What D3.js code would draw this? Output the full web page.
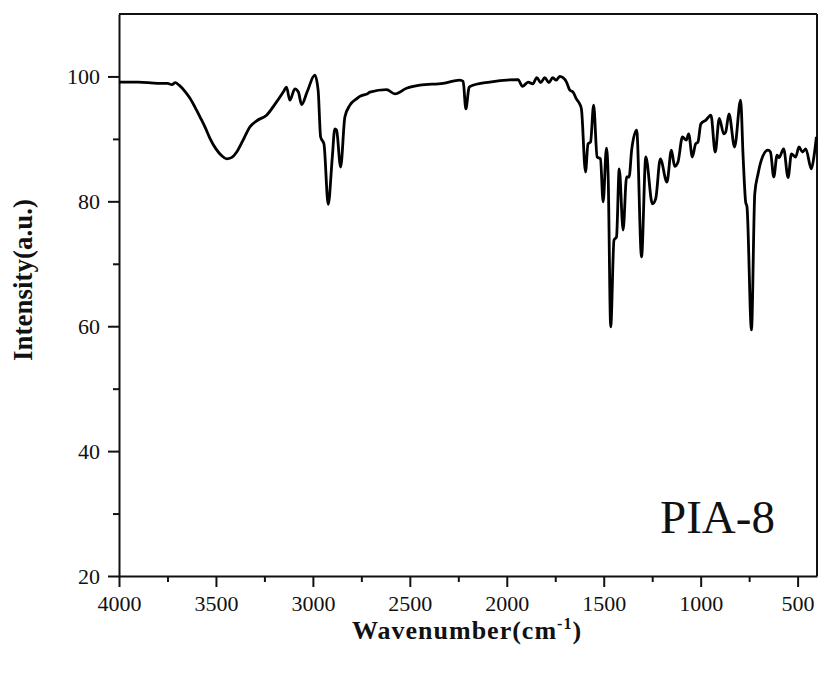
<!DOCTYPE html>
<html>
<head>
<meta charset="utf-8">
<script src="https://cdn.jsdelivr.net/npm/d3@7"></script>
<style>
  body { margin: 0; background: #fff; }
  svg text { font-family: "Liberation Serif", "Times New Roman", serif; fill: #111; }
</style>
</head>
<body>
<div class="ftir_chart"></div>
<script>
// FTIR spectrum (cm-1 vs intensity a.u.)
var wavenumbers = [4000, 3900, 3800, 3750, 3727, 3710, 3690, 3660, 3634, 3600, 3582, 3555, 3531, 3500, 3470, 3445, 3420, 3393, 3360, 3325,
  3290, 3239, 3190, 3153, 3136, 3119, 3093, 3075, 3058, 3030, 2990, 2973, 2960, 2943, 2921, 2900, 2887, 2878, 2857, 2835,
  2809, 2775, 2758, 2715, 2706, 2620, 2577, 2517, 2448, 2328, 2242, 2225, 2211, 2195, 2190, 2088, 1942, 1919, 1890, 1866,
  1845, 1825, 1804, 1783, 1763, 1745, 1727, 1710, 1692, 1675, 1658, 1641, 1624, 1615, 1594, 1581, 1568, 1552, 1534, 1517,
  1503, 1486, 1477, 1464, 1447, 1434, 1420, 1400, 1382, 1369, 1356, 1330, 1305, 1283, 1249, 1232, 1208, 1174, 1151, 1134,
  1117, 1094, 1074, 1062, 1043, 1026, 1014, 999, 973, 947, 925, 904, 881, 871, 854, 825, 794, 781, 768, 761,
  738, 721, 704, 687, 653, 640, 623, 606, 596, 572, 549, 532, 510, 493, 475, 458, 429, 416, 403];
var intensity = [99.1, 99.1, 98.9, 98.9, 98.7, 99.0, 98.6, 97.6, 96.5, 94.6, 93.5, 91.8, 90.1, 88.4, 87.3, 86.8, 87.0, 87.9, 89.8, 91.9,
  92.9, 93.8, 95.8, 97.5, 98.3, 96.2, 98.0, 97.5, 95.5, 97.5, 100.2, 97.8, 90.3, 89.2, 79.5, 87.0, 91.6, 91.4, 85.5, 93.5,
  95.4, 96.4, 96.8, 97.3, 97.5, 97.9, 97.2, 98.1, 98.6, 98.9, 99.4, 99.2, 94.8, 98.2, 98.4, 99.1, 99.5, 98.4, 99.1, 98.8,
  99.8, 99.0, 99.8, 99.0, 99.8, 99.4, 100.0, 99.8, 99.1, 97.8, 97.5, 96.4, 95.6, 94.8, 84.7, 89.2, 89.5, 95.4, 87.1, 86.8,
  79.9, 88.5, 83.9, 59.9, 73.8, 74.3, 85.2, 75.4, 83.9, 83.9, 88.2, 91.4, 71.1, 87.1, 79.6, 80.4, 86.8, 83.1, 88.2, 85.6,
  86.3, 90.3, 89.8, 90.8, 87.1, 89.2, 89.5, 92.4, 93.0, 93.8, 87.9, 93.3, 90.8, 91.1, 94.0, 88.7, 96.2, 87.1, 79.9, 79.1,
  59.4, 81.2, 84.4, 86.6, 88.2, 87.9, 83.9, 87.4, 87.0, 88.4, 83.8, 87.6, 87.1, 88.7, 87.9, 88.4, 85.2, 87.1, 90.3];

var xTicks = [4000, 3500, 3000, 2500, 2000, 1500, 1000, 500];
var xMinor = [3750, 3250, 2750, 2250, 1750, 1250, 750];
var yTicks = [20, 40, 60, 80, 100];
var yMinor = [30, 50, 70, 90];
var sampleName = "PIA-8";

var margin = {top: 14, right: 2, bottom: 97, left: 119},
    width = 819 - margin.left - margin.right,
    height = 673 - margin.top - margin.bottom;

var svg = d3.select(".ftir_chart")
  .append("svg")
  .attr("width", 819)
  .attr("height", 673)
  .append("g")
  .attr("transform", "translate(" + margin.left + "," + margin.top + ")");

var x = d3.scaleLinear()
  .domain([4000, 400])
  .range([0, width]);

var y = d3.scaleLinear()
  .domain([20, 110])
  .range([height, 0]);

var points = wavenumbers.map(function(w, i) { return [w, intensity[i]]; });

// minor ticks first so the major axes draw over them
svg.append("g")
  .attr("transform", "translate(0," + height + ")")
  .call(d3.axisBottom(x).tickValues(xMinor).tickSize(6).tickFormat(""))
  .call(function(g) { g.select(".domain").remove(); })
  .selectAll("line").attr("stroke", "#111").attr("stroke-width", 2);

svg.append("g")
  .call(d3.axisLeft(y).tickValues(yMinor).tickSize(6).tickFormat(""))
  .call(function(g) { g.select(".domain").remove(); })
  .selectAll("line").attr("stroke", "#111").attr("stroke-width", 2);

var xAxis = svg.append("g")
  .attr("transform", "translate(0," + height + ")")
  .call(d3.axisBottom(x).tickValues(xTicks).tickSize(11).tickSizeOuter(0).tickPadding(8).tickFormat(d3.format("d")));

var yAxis = svg.append("g")
  .call(d3.axisLeft(y).tickValues(yTicks).tickSize(11).tickSizeOuter(0).tickPadding(8));

[xAxis, yAxis].forEach(function(g) {
  g.select(".domain").attr("stroke", "#111").attr("stroke-width", 2);
  g.selectAll(".tick line").attr("stroke", "#111").attr("stroke-width", 2);
  g.selectAll(".tick text")
    .style("font-size", "22px")
    .style("font-family", "'Liberation Serif', serif")
    .attr("fill", "#111");
});

// top and right frame
svg.append("line")
  .attr("x1", 0).attr("x2", width).attr("y1", 0).attr("y2", 0)
  .attr("stroke", "#111").attr("stroke-width", 2);
svg.append("line")
  .attr("x1", width).attr("x2", width).attr("y1", 0).attr("y2", height)
  .attr("stroke", "#111").attr("stroke-width", 2);

var line = d3.line()
  .x(function(d) { return x(d[0]); })
  .y(function(d) { return y(d[1]); })
  .curve(d3.curveMonotoneX);

svg.append("path")
  .datum(points)
  .attr("fill", "none")
  .attr("stroke", "#000")
  .attr("stroke-width", 2.8)
  .attr("stroke-linejoin", "round")
  .attr("d", line);

svg.append("text")
  .attr("x", 660 - margin.left)
  .attr("y", 533 - margin.top)
  .style("font-size", "47px")
  .text(sampleName);

// axis titles
var xTitle = svg.append("text")
  .attr("x", 467 - margin.left)
  .attr("y", 639 - margin.top)
  .attr("text-anchor", "middle")
  .style("font-size", "26px")
  .style("font-weight", "bold")
  .style("letter-spacing", "1px");
xTitle.append("tspan").text("Wavenumber(cm");
xTitle.append("tspan").attr("dy", -10).style("font-size", "16px").text("-1");
xTitle.append("tspan").attr("dy", 10).text(")");

svg.append("text")
  .attr("transform", "translate(" + (32 - margin.left) + "," + (280 - margin.top) + ") rotate(-90)")
  .attr("text-anchor", "middle")
  .style("font-size", "27px")
  .style("font-weight", "bold")
  .text("Intensity(a.u.)");
</script>
</body>
</html>
